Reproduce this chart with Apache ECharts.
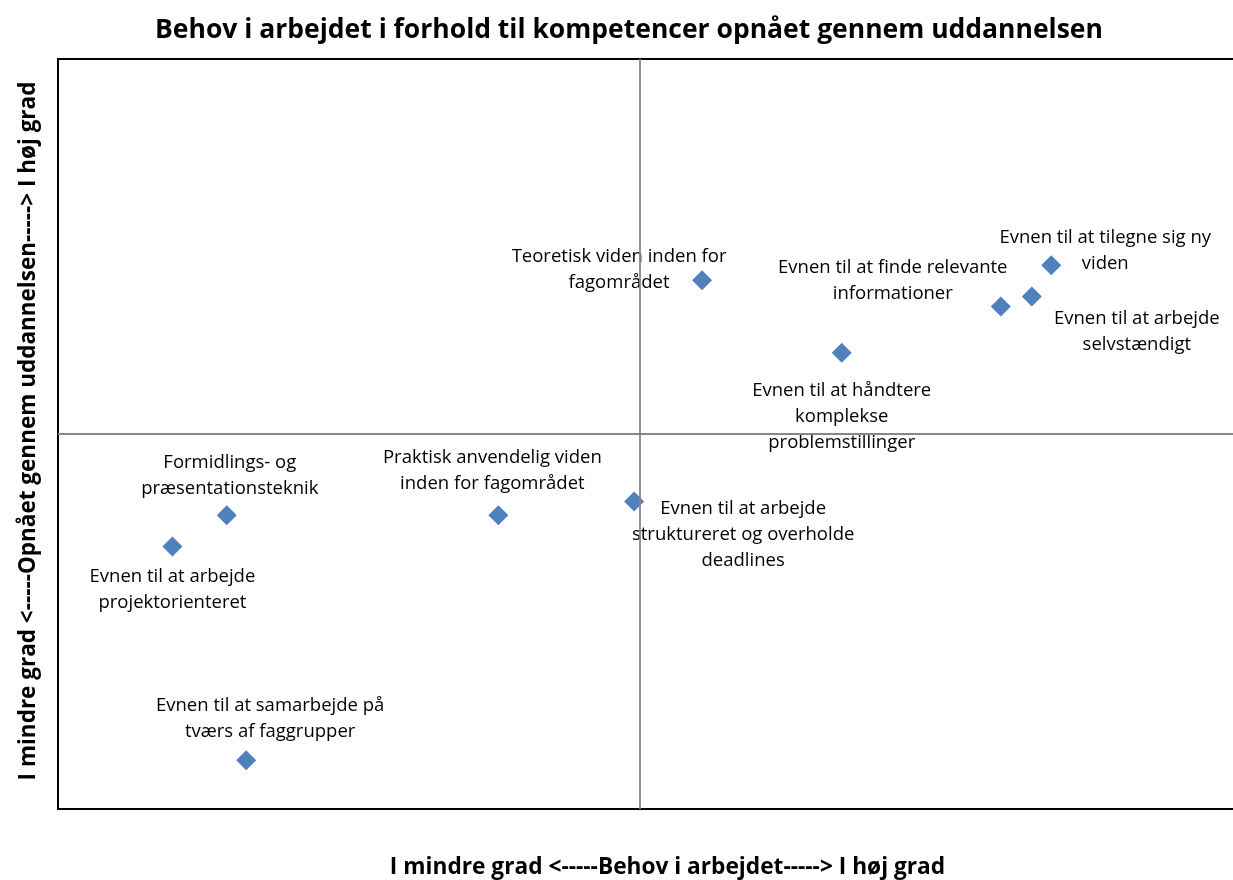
<!DOCTYPE html>
<html>
<head>
<meta charset="utf-8">
<script src="https://cdn.jsdelivr.net/npm/echarts@6/dist/echarts.min.js"></script>
<style>html,body{margin:0;padding:0;background:#fff}#c{width:1233px;height:880px}</style>
</head>
<body>
<div id="c"></div>
<script>
const titleText = 'Behov i arbejdet i forhold til kompetencer opnået gennem uddannelsen';
const xName = 'I mindre grad <-----Behov i arbejdet-----> I høj grad';
const yName = 'I mindre grad <-----Opnået gennem uddannelsen-----> I høj grad';

const labels = [
  'Teoretisk viden inden for\nfagområdet',
  'Evnen til at tilegne sig ny\nviden',
  'Evnen til at arbejde\nselvstændigt',
  'Evnen til at finde relevante\ninformationer',
  'Evnen til at håndtere\nkomplekse\nproblemstillinger',
  'Formidlings- og\npræsentationsteknik',
  'Evnen til at arbejde\nprojektorienteret',
  'Praktisk anvendelig viden\ninden for fagområdet',
  'Evnen til at arbejde\nstruktureret og overholde\ndeadlines',
  'Evnen til at samarbejde på\ntværs af faggrupper'
];
const needValues = [0.32, 2.12, 2.02, 1.86, 1.04, -2.13, -2.41, -0.73, -0.03, -2.03];
const gainedValues = [1.23, 1.35, 1.10, 1.02, 0.65, -0.65, -0.90, -0.65, -0.54, -2.61];
// label offsets (style only)
const labelOffsets = [[-83,-11],[54,-15],[105,35],[-108,-26],[0,64],[3,-40],[0,43],[-6,-45],[109,33],[24,-42]];

const FONT = '"Open Sans", sans-serif';

const data = labels.map((l, i) => ({ name: l, value: [needValues[i], gainedValues[i]] }));

const hiddenAxis = {
  axisTick: { show: false }, axisLabel: { show: false }, splitLine: { show: false }
};
const borderLine = { show: true, onZero: false, lineStyle: { color: '#000', width: 2 } };

const chart = echarts.init(document.getElementById('c'));
chart.setOption({
  animation: false,
  title: {
    text: titleText,
    left: 624,
    textAlign: 'center',
    top: 12,
    textStyle: { fontFamily: FONT, fontWeight: 'bold', fontSize: 26.5, color: '#000' }
  },
  grid: { left: 58, top: 59, bottom: 71, right: 0, containLabel: false, outerBoundsMode: 'none' },
  xAxis: [{
    type: 'value', min: -3, max: 3.057, position: 'bottom',
    ...hiddenAxis, axisLine: borderLine,
    name: xName, nameLocation: 'middle', nameGap: 47,
    nameTextStyle: { fontFamily: FONT, fontWeight: 'bold', fontSize: 22.7, color: '#000', padding: [0, 0, 0, 44] }
  }, {
    type: 'value', min: -3, max: 3.057, position: 'top',
    ...hiddenAxis, axisLine: borderLine
  }],
  yAxis: {
    type: 'value', min: -3, max: 3, position: 'left',
    ...hiddenAxis, axisLine: borderLine,
    name: yName, nameLocation: 'middle', nameGap: 18,
    nameTextStyle: { fontFamily: FONT, fontWeight: 'bold', fontSize: 22.5, color: '#000', padding: [0, 0, 0, 6] }
  },
  series: [{
    type: 'scatter',
    symbol: 'diamond',
    symbolSize: 20,
    itemStyle: { color: '#4F81BD', opacity: 1 },
    label: {
      show: true, position: 'inside',
      formatter: p => p.name,
      fontFamily: FONT, fontSize: 18.5, lineHeight: 26, color: '#000',
      align: 'center', verticalAlign: 'middle'
    },
    labelLayout: p => ({ dx: labelOffsets[p.dataIndex][0], dy: labelOffsets[p.dataIndex][1], hideOverlap: false }),
    data: data,
    markLine: {
      silent: true, symbol: 'none', label: { show: false },
      lineStyle: { color: '#878787', type: 'solid', width: 1.8 },
      data: [{ xAxis: 0 }, { yAxis: 0 }]
    },
    z: 3
  }]
});
</script>
</body>
</html>
